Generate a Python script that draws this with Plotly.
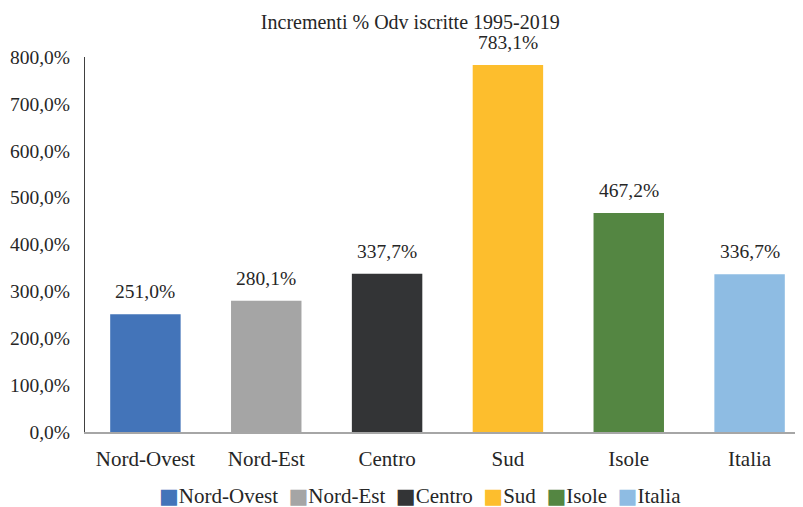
import plotly.graph_objects as go

categories = ["Nord-Ovest", "Nord-Est", "Centro", "Sud", "Isole", "Italia"]
values = [251.0, 280.1, 337.7, 783.1, 467.2, 336.7]
colors = ["#4374B9", "#A5A5A5", "#333436", "#FDBE2D", "#548642", "#8EBCE3"]
y_ticks = [0, 100, 200, 300, 400, 500, 600, 700, 800]

FONT = "Liberation Serif, DejaVu Serif, serif"
TXT = "#262626"

def fmt(v):
    return f"{v:.1f}".replace(".", ",") + "%"

fig = go.Figure()
for cat, val, col in zip(categories, values, colors):
    fig.add_trace(go.Bar(
        x=[cat], y=[val], name=cat, marker=dict(color=col, line=dict(width=0)),
        width=0.583, hoverinfo="x+y", showlegend=False,
    ))
    fig.add_annotation(
        x=cat, y=val, text=fmt(val),
        showarrow=False, yanchor="bottom", yshift=10,
        font=dict(family=FONT, size=19.5, color=TXT),
    )

# legend drawn as one line of text with coloured square glyphs
sep = "\u00a0\u00a0"
legend_text = sep.join(
    f'<span style="color:{c};font-family:DejaVu Sans">\u25A0</span>{n}'
    for n, c in zip(categories, colors)
)
fig.add_annotation(
    xref="paper", yref="paper", x=0.4666, y=-0.171,
    xanchor="center", yanchor="middle", showarrow=False,
    text=legend_text,
    font=dict(family=FONT, size=21, color=TXT),
)

fig.update_layout(
    width=795, height=499,
    autosize=False,
    margin=dict(l=77, r=0, t=49, b=75, pad=0, autoexpand=False),
    paper_bgcolor="white", plot_bgcolor="white",
    barmode="overlay",
    showlegend=False,
    font=dict(family=FONT, size=19, color=TXT),
    title=dict(
        text="Incrementi % Odv iscritte 1995-2019",
        x=0.506, xref="container", xanchor="center",
        y=0.972, yref="container", yanchor="middle",
        font=dict(family=FONT, size=20, color=TXT),
    ),
)

fig.update_xaxes(
    type="category", categoryorder="array", categoryarray=categories,
    range=[-0.5, 5.442],
    showline=True, linecolor="#A6A6A6", linewidth=1.5,
    showgrid=False, ticks="outside", ticklen=7, tickcolor="rgba(0,0,0,0)",
    tickangle=0,
    tickfont=dict(family=FONT, size=21, color=TXT),
    fixedrange=True, automargin=False,
)
fig.update_yaxes(
    range=[0, 800], tickvals=y_ticks, ticktext=[fmt(v) for v in y_ticks],
    showline=True, linecolor="#404040", linewidth=1.2,
    showgrid=False, zeroline=False, ticks="outside", ticklen=10,
    tickcolor="rgba(0,0,0,0)",
    tickfont=dict(family=FONT, size=19.5, color=TXT),
    fixedrange=True, automargin=False,
)

fig.write_html("out.html")
